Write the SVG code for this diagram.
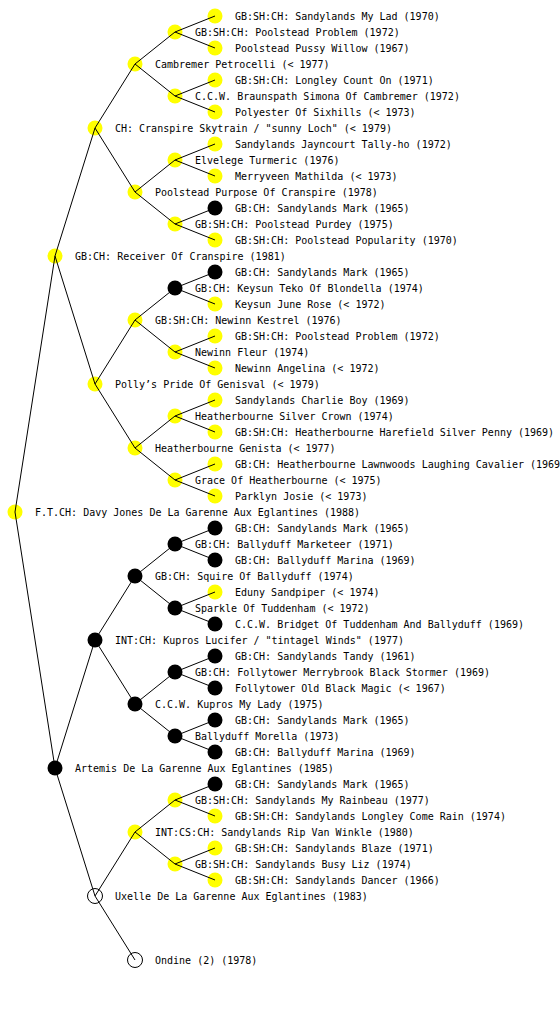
<svg xmlns="http://www.w3.org/2000/svg" width="560" height="1024" viewBox="0 0 560 1024">
<style>
text{font-family:"DejaVu Sans Mono","Liberation Mono",monospace;font-size:10px;fill:#000}
.y{fill:#ffff00}
.b{fill:#000}
.e{fill:#fff;stroke:#000;stroke-width:1}
#connectors line{stroke:#000;stroke-width:1}
</style>
<rect width="560" height="1024" fill="#fff"/>
<g id="n0"><circle class="y" cx="15" cy="512" r="7.5"/><text x="35" y="516">F.T.CH: Davy Jones De La Garenne Aux Eglantines (1988)</text></g>
<g id="n1"><circle class="y" cx="55" cy="256" r="7.5"/><text x="75" y="260">GB:CH: Receiver Of Cranspire (1981)</text></g>
<g id="n2"><circle class="b" cx="55" cy="768" r="7.5"/><text x="75" y="772">Artemis De La Garenne Aux Eglantines (1985)</text></g>
<g id="n3"><circle class="y" cx="95" cy="128" r="7.5"/><text x="115" y="132">CH: Cranspire Skytrain / "sunny Loch" (&lt; 1979)</text></g>
<g id="n4"><circle class="y" cx="95" cy="384" r="7.5"/><text x="115" y="388">Polly’s Pride Of Genisval (&lt; 1979)</text></g>
<g id="n5"><circle class="b" cx="95" cy="640" r="7.5"/><text x="115" y="644">INT:CH: Kupros Lucifer / "tintagel Winds" (1977)</text></g>
<g id="n6"><circle class="e" cx="95" cy="896" r="7.5"/><text x="115" y="900">Uxelle De La Garenne Aux Eglantines (1983)</text></g>
<g id="n7"><circle class="y" cx="135" cy="64" r="7.5"/><text x="155" y="68">Cambremer Petrocelli (&lt; 1977)</text></g>
<g id="n8"><circle class="y" cx="135" cy="192" r="7.5"/><text x="155" y="196">Poolstead Purpose Of Cranspire (1978)</text></g>
<g id="n9"><circle class="y" cx="135" cy="320" r="7.5"/><text x="155" y="324">GB:SH:CH: Newinn Kestrel (1976)</text></g>
<g id="n10"><circle class="y" cx="135" cy="448" r="7.5"/><text x="155" y="452">Heatherbourne Genista (&lt; 1977)</text></g>
<g id="n11"><circle class="b" cx="135" cy="576" r="7.5"/><text x="155" y="580">GB:CH: Squire Of Ballyduff (1974)</text></g>
<g id="n12"><circle class="b" cx="135" cy="704" r="7.5"/><text x="155" y="708">C.C.W. Kupros My Lady (1975)</text></g>
<g id="n13"><circle class="y" cx="135" cy="832" r="7.5"/><text x="155" y="836">INT:CS:CH: Sandylands Rip Van Winkle (1980)</text></g>
<g id="n14"><circle class="e" cx="135" cy="960" r="7.5"/><text x="155" y="964">Ondine (2) (1978)</text></g>
<g id="n15"><circle class="y" cx="175" cy="32" r="7.5"/><text x="195" y="36">GB:SH:CH: Poolstead Problem (1972)</text></g>
<g id="n16"><circle class="y" cx="175" cy="96" r="7.5"/><text x="195" y="100">C.C.W. Braunspath Simona Of Cambremer (1972)</text></g>
<g id="n17"><circle class="y" cx="175" cy="160" r="7.5"/><text x="195" y="164">Elvelege Turmeric (1976)</text></g>
<g id="n18"><circle class="y" cx="175" cy="224" r="7.5"/><text x="195" y="228">GB:SH:CH: Poolstead Purdey (1975)</text></g>
<g id="n19"><circle class="b" cx="175" cy="288" r="7.5"/><text x="195" y="292">GB:CH: Keysun Teko Of Blondella (1974)</text></g>
<g id="n20"><circle class="y" cx="175" cy="352" r="7.5"/><text x="195" y="356">Newinn Fleur (1974)</text></g>
<g id="n21"><circle class="y" cx="175" cy="416" r="7.5"/><text x="195" y="420">Heatherbourne Silver Crown (1974)</text></g>
<g id="n22"><circle class="y" cx="175" cy="480" r="7.5"/><text x="195" y="484">Grace Of Heatherbourne (&lt; 1975)</text></g>
<g id="n23"><circle class="b" cx="175" cy="544" r="7.5"/><text x="195" y="548">GB:CH: Ballyduff Marketeer (1971)</text></g>
<g id="n24"><circle class="b" cx="175" cy="608" r="7.5"/><text x="195" y="612">Sparkle Of Tuddenham (&lt; 1972)</text></g>
<g id="n25"><circle class="b" cx="175" cy="672" r="7.5"/><text x="195" y="676">GB:CH: Follytower Merrybrook Black Stormer (1969)</text></g>
<g id="n26"><circle class="b" cx="175" cy="736" r="7.5"/><text x="195" y="740">Ballyduff Morella (1973)</text></g>
<g id="n27"><circle class="y" cx="175" cy="800" r="7.5"/><text x="195" y="804">GB:SH:CH: Sandylands My Rainbeau (1977)</text></g>
<g id="n28"><circle class="y" cx="175" cy="864" r="7.5"/><text x="195" y="868">GB:SH:CH: Sandylands Busy Liz (1974)</text></g>
<g id="n29"><circle class="y" cx="215" cy="16" r="7.5"/><text x="235" y="20">GB:SH:CH: Sandylands My Lad (1970)</text></g>
<g id="n30"><circle class="y" cx="215" cy="48" r="7.5"/><text x="235" y="52">Poolstead Pussy Willow (1967)</text></g>
<g id="n31"><circle class="y" cx="215" cy="80" r="7.5"/><text x="235" y="84">GB:SH:CH: Longley Count On (1971)</text></g>
<g id="n32"><circle class="y" cx="215" cy="112" r="7.5"/><text x="235" y="116">Polyester Of Sixhills (&lt; 1973)</text></g>
<g id="n33"><circle class="y" cx="215" cy="144" r="7.5"/><text x="235" y="148">Sandylands Jayncourt Tally-ho (1972)</text></g>
<g id="n34"><circle class="y" cx="215" cy="176" r="7.5"/><text x="235" y="180">Merryveen Mathilda (&lt; 1973)</text></g>
<g id="n35"><circle class="b" cx="215" cy="208" r="7.5"/><text x="235" y="212">GB:CH: Sandylands Mark (1965)</text></g>
<g id="n36"><circle class="y" cx="215" cy="240" r="7.5"/><text x="235" y="244">GB:SH:CH: Poolstead Popularity (1970)</text></g>
<g id="n37"><circle class="b" cx="215" cy="272" r="7.5"/><text x="235" y="276">GB:CH: Sandylands Mark (1965)</text></g>
<g id="n38"><circle class="y" cx="215" cy="304" r="7.5"/><text x="235" y="308">Keysun June Rose (&lt; 1972)</text></g>
<g id="n39"><circle class="y" cx="215" cy="336" r="7.5"/><text x="235" y="340">GB:SH:CH: Poolstead Problem (1972)</text></g>
<g id="n40"><circle class="y" cx="215" cy="368" r="7.5"/><text x="235" y="372">Newinn Angelina (&lt; 1972)</text></g>
<g id="n41"><circle class="y" cx="215" cy="400" r="7.5"/><text x="235" y="404">Sandylands Charlie Boy (1969)</text></g>
<g id="n42"><circle class="y" cx="215" cy="432" r="7.5"/><text x="235" y="436">GB:SH:CH: Heatherbourne Harefield Silver Penny (1969)</text></g>
<g id="n43"><circle class="y" cx="215" cy="464" r="7.5"/><text x="235" y="468">GB:CH: Heatherbourne Lawnwoods Laughing Cavalier (1969)</text></g>
<g id="n44"><circle class="y" cx="215" cy="496" r="7.5"/><text x="235" y="500">Parklyn Josie (&lt; 1973)</text></g>
<g id="n45"><circle class="b" cx="215" cy="528" r="7.5"/><text x="235" y="532">GB:CH: Sandylands Mark (1965)</text></g>
<g id="n46"><circle class="b" cx="215" cy="560" r="7.5"/><text x="235" y="564">GB:CH: Ballyduff Marina (1969)</text></g>
<g id="n47"><circle class="y" cx="215" cy="592" r="7.5"/><text x="235" y="596">Eduny Sandpiper (&lt; 1974)</text></g>
<g id="n48"><circle class="b" cx="215" cy="624" r="7.5"/><text x="235" y="628">C.C.W. Bridget Of Tuddenham And Ballyduff (1969)</text></g>
<g id="n49"><circle class="b" cx="215" cy="656" r="7.5"/><text x="235" y="660">GB:CH: Sandylands Tandy (1961)</text></g>
<g id="n50"><circle class="b" cx="215" cy="688" r="7.5"/><text x="235" y="692">Follytower Old Black Magic (&lt; 1967)</text></g>
<g id="n51"><circle class="b" cx="215" cy="720" r="7.5"/><text x="235" y="724">GB:CH: Sandylands Mark (1965)</text></g>
<g id="n52"><circle class="b" cx="215" cy="752" r="7.5"/><text x="235" y="756">GB:CH: Ballyduff Marina (1969)</text></g>
<g id="n53"><circle class="b" cx="215" cy="784" r="7.5"/><text x="235" y="788">GB:CH: Sandylands Mark (1965)</text></g>
<g id="n54"><circle class="y" cx="215" cy="816" r="7.5"/><text x="235" y="820">GB:SH:CH: Sandylands Longley Come Rain (1974)</text></g>
<g id="n55"><circle class="y" cx="215" cy="848" r="7.5"/><text x="235" y="852">GB:SH:CH: Sandylands Blaze (1971)</text></g>
<g id="n56"><circle class="y" cx="215" cy="880" r="7.5"/><text x="235" y="884">GB:SH:CH: Sandylands Dancer (1966)</text></g>
<g id="connectors">
<line x1="15" y1="512" x2="55" y2="256"/><line x1="15" y1="512" x2="55" y2="768"/>
<line x1="55" y1="256" x2="95" y2="128"/><line x1="55" y1="256" x2="95" y2="384"/>
<line x1="55" y1="768" x2="95" y2="640"/><line x1="55" y1="768" x2="95" y2="896"/>
<line x1="95" y1="128" x2="135" y2="64"/><line x1="95" y1="128" x2="135" y2="192"/>
<line x1="95" y1="384" x2="135" y2="320"/><line x1="95" y1="384" x2="135" y2="448"/>
<line x1="95" y1="640" x2="135" y2="576"/><line x1="95" y1="640" x2="135" y2="704"/>
<line x1="95" y1="896" x2="135" y2="832"/><line x1="95" y1="896" x2="135" y2="960"/>
<line x1="135" y1="64" x2="175" y2="32"/><line x1="135" y1="64" x2="175" y2="96"/>
<line x1="135" y1="192" x2="175" y2="160"/><line x1="135" y1="192" x2="175" y2="224"/>
<line x1="135" y1="320" x2="175" y2="288"/><line x1="135" y1="320" x2="175" y2="352"/>
<line x1="135" y1="448" x2="175" y2="416"/><line x1="135" y1="448" x2="175" y2="480"/>
<line x1="135" y1="576" x2="175" y2="544"/><line x1="135" y1="576" x2="175" y2="608"/>
<line x1="135" y1="704" x2="175" y2="672"/><line x1="135" y1="704" x2="175" y2="736"/>
<line x1="135" y1="832" x2="175" y2="800"/><line x1="135" y1="832" x2="175" y2="864"/>
<line x1="175" y1="32" x2="215" y2="16"/><line x1="175" y1="32" x2="215" y2="48"/>
<line x1="175" y1="96" x2="215" y2="80"/><line x1="175" y1="96" x2="215" y2="112"/>
<line x1="175" y1="160" x2="215" y2="144"/><line x1="175" y1="160" x2="215" y2="176"/>
<line x1="175" y1="224" x2="215" y2="208"/><line x1="175" y1="224" x2="215" y2="240"/>
<line x1="175" y1="288" x2="215" y2="272"/><line x1="175" y1="288" x2="215" y2="304"/>
<line x1="175" y1="352" x2="215" y2="336"/><line x1="175" y1="352" x2="215" y2="368"/>
<line x1="175" y1="416" x2="215" y2="400"/><line x1="175" y1="416" x2="215" y2="432"/>
<line x1="175" y1="480" x2="215" y2="464"/><line x1="175" y1="480" x2="215" y2="496"/>
<line x1="175" y1="544" x2="215" y2="528"/><line x1="175" y1="544" x2="215" y2="560"/>
<line x1="175" y1="608" x2="215" y2="592"/><line x1="175" y1="608" x2="215" y2="624"/>
<line x1="175" y1="672" x2="215" y2="656"/><line x1="175" y1="672" x2="215" y2="688"/>
<line x1="175" y1="736" x2="215" y2="720"/><line x1="175" y1="736" x2="215" y2="752"/>
<line x1="175" y1="800" x2="215" y2="784"/><line x1="175" y1="800" x2="215" y2="816"/>
<line x1="175" y1="864" x2="215" y2="848"/><line x1="175" y1="864" x2="215" y2="880"/>
</g>
</svg>
